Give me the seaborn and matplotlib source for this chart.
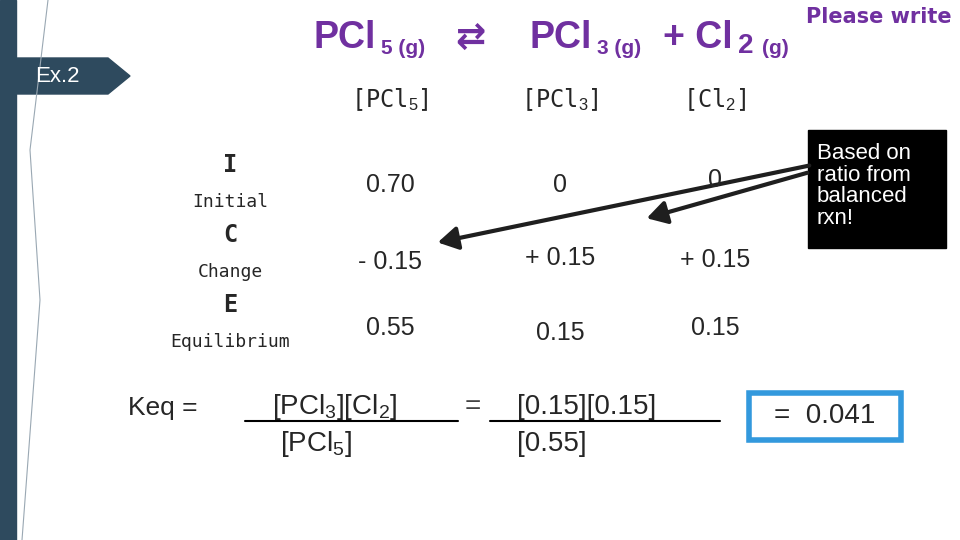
import matplotlib
matplotlib.use("Agg")
import matplotlib.pyplot as plt
import seaborn as sns
from matplotlib.patches import Rectangle, Polygon, FancyArrowPatch

sns.set_theme(style="white")
plt.rcParams['font.family'] = ['Liberation Sans', 'DejaVu Sans']
plt.rcParams['mathtext.fontset'] = 'custom'
plt.rcParams['mathtext.rm'] = 'Liberation Sans'
plt.rcParams['mathtext.it'] = 'Liberation Sans'
plt.rcParams['mathtext.bf'] = 'Liberation Sans:bold'

columns = [r"[PCl$_5$]", r"[PCl$_3$]", r"[Cl$_2$]"]
row_letters = ["I", "C", "E"]
row_names = ["Initial", "Change", "Equilibrium"]
initial = ["0.70", "0", "0"]
change = ["- 0.15", "+ 0.15", "+ 0.15"]
equil = ["0.55", "0.15", "0.15"]

fig = plt.figure(figsize=(9.6, 5.4), dpi=100)
ax = fig.add_axes([0, 0, 1, 1])
ax.set_xlim(0, 960); ax.set_ylim(540, 0); ax.axis("off")

# left decoration
ax.add_patch(Rectangle((0, 0), 16, 540, color="#2e4a5e"))
ax.plot([22, 40, 30, 48], [540, 300, 150, 0], color="#9aa8b3", lw=0.8)
ax.add_patch(Polygon([(0, 58), (108, 58), (130, 76), (108, 94), (0, 94)], color="#2e4a5e"))
ax.text(35, 76, "Ex.2", color="white", fontsize=16, va="center")

purple = "#7030A0"
ax.text(314, 38, "PCl", color=purple, fontsize=27, fontweight="bold", va="center")
ax.text(381, 48, "5 (g)", color=purple, fontsize=15, fontweight="bold", va="center")
ax.text(455, 38, "⇄", color=purple, fontsize=26, fontweight="bold", va="center",
        family=['DejaVu Sans'])
ax.text(530, 38, "PCl", color=purple, fontsize=27, fontweight="bold", va="center")
ax.text(597, 48, "3 (g)", color=purple, fontsize=15, fontweight="bold", va="center")
ax.text(663, 38, "+ Cl", color=purple, fontsize=27, fontweight="bold", va="center")
ax.text(738, 46, "2", color=purple, fontsize=20, fontweight="bold", va="center")
ax.text(762, 48, "(g)", color=purple, fontsize=15, fontweight="bold", va="center")
ax.text(952, 17, "Please write", color=purple, fontsize=15, fontweight="bold",
        ha="right", va="center", family=['DejaVu Sans'])

cx = [390, 560, 715]
for x, c in zip(cx, columns):
    ax.text(x, 100, c, fontsize=17, ha="center", va="center", family=['DejaVu Sans Mono'])
ys = [165, 235, 305]
for y, l, n in zip(ys, row_letters, row_names):
    ax.text(230, y, l, fontsize=17, fontweight="bold", ha="center", va="center",
            family=['DejaVu Sans Mono'])
    ax.text(230, y + 37, n, fontsize=13, ha="center", va="center", family=['DejaVu Sans Mono'])
offs = [[185, 185, 180], [262, 258, 260], [328, 333, 328]]
for vals, oy in zip([initial, change, equil], offs):
    for x, v, y in zip(cx, vals, oy):
        ax.text(x, y, v, fontsize=18, ha="center", va="center")

# note box and arrows
ax.add_patch(Rectangle((808, 130), 138, 118, color="black"))
ax.text(817, 186, "Based on\nratio from\nbalanced\nrxn!", color="white", fontsize=16,
        va="center", linespacing=1.05)
for start, end in [((812, 165), (435, 243)), ((810, 172), (644, 219))]:
    ax.add_patch(FancyArrowPatch(start, end, arrowstyle="-|>,head_length=12,head_width=7",
                                 color="#1f1f1f", lw=3))

# Keq
ax.text(128, 408, "Keq =", fontsize=19, va="center")
ax.text(272, 407, r"[PCl$_3$][Cl$_2$]", fontsize=20, va="center")
ax.plot([245, 458], [421, 421], color="black", lw=1.5)
ax.text(280, 444, r"[PCl$_5$]", fontsize=20, va="center")
ax.text(465, 407, "=", fontsize=20, va="center", color="#444444")
ax.text(517, 407, "[0.15][0.15]", fontsize=20, va="center")
ax.plot([490, 720], [421, 421], color="black", lw=1.5)
ax.text(517, 444, "[0.55]", fontsize=20, va="center")
ax.add_patch(Rectangle((749, 393), 152, 47, fill=False, ec="#3399dd", lw=4))
ax.text(825, 416, "=  0.041", fontsize=20, ha="center", va="center")

fig.savefig("out.png", dpi=100)
